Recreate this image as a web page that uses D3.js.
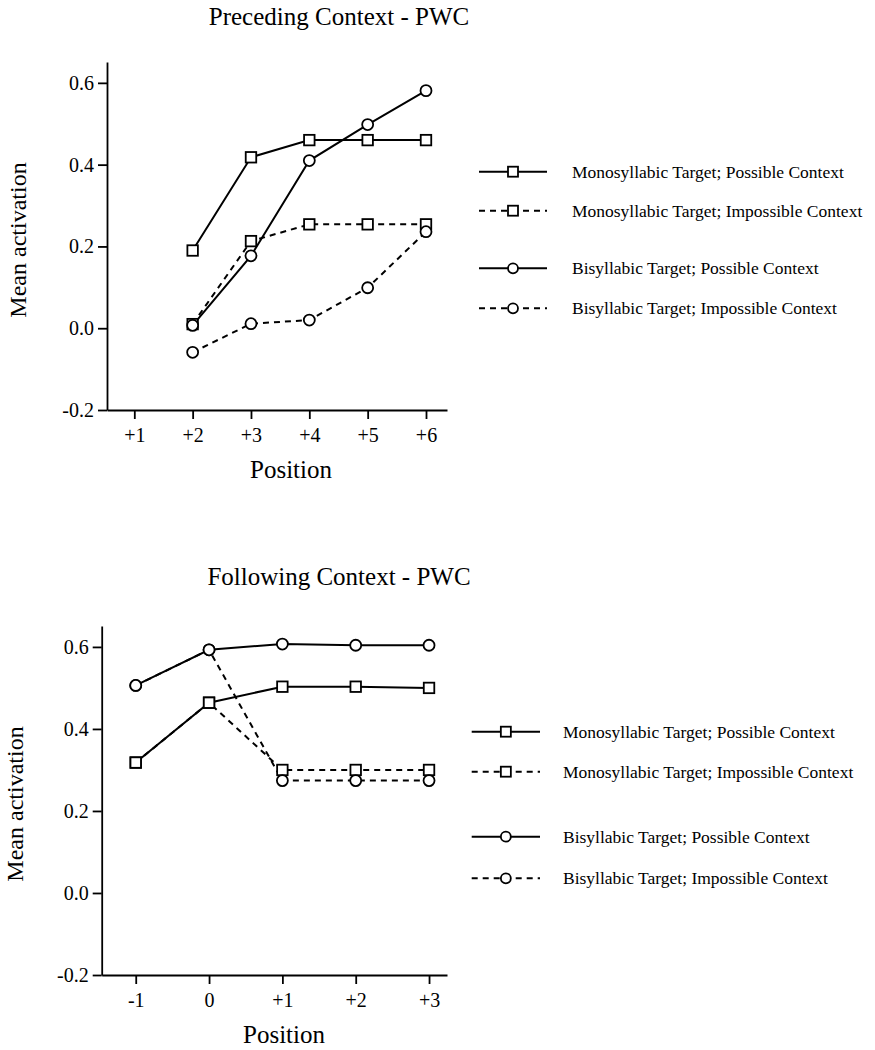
<!DOCTYPE html>
<html>
<head>
<meta charset="utf-8">
<script src="https://cdn.jsdelivr.net/npm/d3@7"></script>
<style>
  body { margin: 0; background: #fff; }
  svg { display: block; }
  text { font-family: "Liberation Serif", "Times New Roman", serif; fill: #000; }
</style>
</head>
<body>
<div id="chart"></div>
<script>
// ---- data ----
var precPositions = [2, 3, 4, 5, 6];
var precTickValues = [1, 2, 3, 4, 5, 6];
var precTickLabels = ["+1", "+2", "+3", "+4", "+5", "+6"];
var precMonoPossible = [0.19, 0.418, 0.46, 0.46, 0.46];
var precMonoImpossible = [0.01, 0.213, 0.254, 0.254, 0.254];
var precBiPossible = [0.007, 0.177, 0.41, 0.498, 0.581];
var precBiImpossible = [-0.059, 0.011, 0.02, 0.099, 0.236];

var follPositions = [-1, 0, 1, 2, 3];
var follTickValues = [-1, 0, 1, 2, 3];
var follTickLabels = ["-1", "0", "+1", "+2", "+3"];
var follMonoPossible = [0.318, 0.464, 0.503, 0.503, 0.5];
var follMonoImpossible = [0.318, 0.464, 0.30, 0.30, 0.30];
var follBiPossible = [0.506, 0.593, 0.607, 0.604, 0.604];
var follBiImpossible = [0.506, 0.593, 0.274, 0.274, 0.274];

var yTickValues = [-0.2, 0, 0.2, 0.4, 0.6];
var seriesNames = [
  "Monosyllabic Target; Possible Context",
  "Monosyllabic Target; Impossible Context",
  "Bisyllabic Target; Possible Context",
  "Bisyllabic Target; Impossible Context"
];
var seriesShapes = ["square", "square", "circle", "circle"];
var seriesDashed = [false, true, false, true];

var svg = d3.select("#chart")
  .append("svg")
  .attr("width", 875)
  .attr("height", 1050);

function marker(g, shape, cx, cy, size) {
  if (shape == "square") {
    g.append("rect")
      .attr("x", cx - size / 2)
      .attr("y", cy - size / 2)
      .attr("width", size)
      .attr("height", size)
      .attr("fill", "#fff")
      .attr("stroke", "#000")
      .attr("stroke-width", 1.8);
  } else {
    g.append("circle")
      .attr("cx", cx)
      .attr("cy", cy)
      .attr("r", size / 2)
      .attr("fill", "#fff")
      .attr("stroke", "#000")
      .attr("stroke-width", 1.8);
  }
}

function drawPanel(p) {
  var g = svg.append("g");

  var x = d3.scaleLinear().domain(p.xDomain).range([p.left, p.right]);
  var y = d3.scaleLinear().domain([-0.2, 0.651]).range([p.bottom, p.top]);

  // title
  g.append("text")
    .attr("x", p.titleX)
    .attr("y", p.titleY)
    .attr("text-anchor", "middle")
    .style("font-size", "25px")
    .text(p.title);

  // y axis
  var yAxis = d3.axisLeft(y)
    .tickValues(yTickValues)
    .tickFormat(function(d) { return d.toFixed(1); })
    .tickSizeInner(9)
    .tickSizeOuter(0)
    .tickPadding(4);
  var ya = g.append("g")
    .attr("transform", "translate(" + p.left + ",0)")
    .call(yAxis);

  // x axis
  var xAxis = d3.axisBottom(x)
    .tickValues(p.tickValues)
    .tickFormat(function(d, i) { return p.tickLabels[i]; })
    .tickSizeInner(9)
    .tickSizeOuter(0);
  var xa = g.append("g")
    .attr("transform", "translate(0," + p.bottom + ")")
    .call(xAxis);
  xa.selectAll("text").attr("y", 32).attr("dy", null);

  [ya, xa].forEach(function(a) {
    a.selectAll("path, line").attr("stroke", "#000").attr("stroke-width", 1.8);
    a.selectAll("text")
      .style("font-size", "20px")
      .style("font-family", "'Liberation Serif', 'Times New Roman', serif")
      .attr("fill", "#000");
  });

  // axis labels
  g.append("text")
    .attr("x", p.xLabelX)
    .attr("y", p.xLabelY)
    .attr("text-anchor", "middle")
    .style("font-size", "25px")
    .text("Position");

  g.append("text")
    .attr("transform", "translate(" + p.yLabelX + "," + p.yLabelY + ") rotate(-90)")
    .attr("text-anchor", "middle")
    .style("font-size", "24px")
    .text("Mean activation");

  var line = d3.line()
    .x(function(d) { return x(d[0]); })
    .y(function(d) { return y(d[1]); });

  var series = p.series.map(function(vals) {
    return vals.map(function(v, i) { return [p.positions[i], v]; });
  });

  // lines
  series.forEach(function(s, k) {
    g.append("path")
      .datum(s)
      .attr("d", line)
      .attr("fill", "none")
      .attr("stroke", "#000")
      .attr("stroke-width", 2)
      .attr("stroke-dasharray", seriesDashed[k] ? "6,5" : null);
  });

  // markers
  series.forEach(function(s, k) {
    s.forEach(function(d) {
      marker(g, seriesShapes[k], x(d[0]), y(d[1]), seriesShapes[k] == "square" ? 10.5 : 11);
    });
  });

  // legend
  p.legendY.forEach(function(ly, k) {
    g.append("line")
      .attr("x1", p.legendX1)
      .attr("x2", p.legendX2)
      .attr("y1", ly)
      .attr("y2", ly)
      .attr("stroke", "#000")
      .attr("stroke-width", 2)
      .attr("stroke-dasharray", seriesDashed[k] ? "6,5" : null);
    marker(g, seriesShapes[k], (p.legendX1 + p.legendX2) / 2, ly, 10);
    g.append("text")
      .attr("x", p.legendTextX)
      .attr("y", ly)
      .attr("dy", "0.35em")
      .style("font-size", "17.5px")
      .text(seriesNames[k]);
  });
}

drawPanel({
  title: "Preceding Context - PWC",
  titleX: 339, titleY: 25,
  left: 107, right: 447, top: 62, bottom: 410,
  xDomain: [0.532, 6.36],
  positions: precPositions,
  tickValues: precTickValues,
  tickLabels: precTickLabels,
  series: [precMonoPossible, precMonoImpossible, precBiPossible, precBiImpossible],
  xLabelX: 291, xLabelY: 478,
  yLabelX: 26, yLabelY: 240,
  legendY: [171.7, 210.7, 268.3, 308.3],
  legendX1: 479, legendX2: 547, legendTextX: 572
});

drawPanel({
  title: "Following Context - PWC",
  titleX: 339, titleY: 585,
  left: 101.7, right: 447, top: 626, bottom: 975,
  xDomain: [-1.464, 3.245],
  positions: follPositions,
  tickValues: follTickValues,
  tickLabels: follTickLabels,
  series: [follMonoPossible, follMonoImpossible, follBiPossible, follBiImpossible],
  xLabelX: 284, xLabelY: 1043,
  yLabelX: 23, yLabelY: 804,
  legendY: [731.7, 771.7, 836.7, 878.3],
  legendX1: 471.7, legendX2: 540, legendTextX: 563
});
</script>
</body>
</html>
